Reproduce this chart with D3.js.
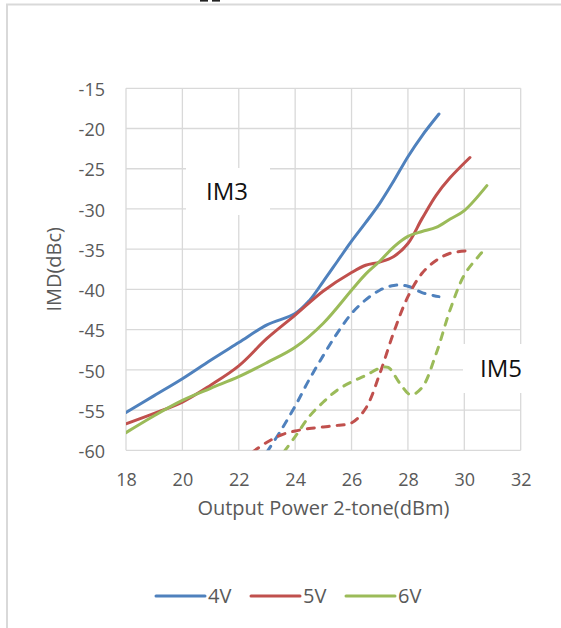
<!DOCTYPE html>
<html>
<head>
<meta charset="utf-8">
<script src="https://cdn.jsdelivr.net/npm/d3@7"></script>
<style>
  html, body { margin: 0; padding: 0; background: #fff; }
  svg { display: block; font-family: "Open Sans", sans-serif; }
</style>
</head>
<body>
<svg id="chart" width="561" height="628"></svg>
<script>
// series names (legend)
var seriesNames = ['4V', '5V', '6V'];
var seriesColors = ['#4f81bd', '#c0504d', '#9bbb59'];

// IM3 curves, [Pout dBm, IMD dBc]
var im3_4V = [[18,-55.3],[19,-53.2],[20,-51.1],[21,-48.8],[22,-46.6],[23,-44.4],[24,-43.0],[24.5,-41.4],[25,-39.0],[25.5,-36.5],[26,-34.0],[26.5,-31.7],[27,-29.3],[27.5,-26.5],[28,-23.5],[28.5,-20.9],[29.1,-18.2]];
var im3_5V = [[18,-56.7],[19,-55.4],[20,-54.0],[21,-51.9],[22,-49.5],[23,-46.1],[24,-43.2],[25,-40.2],[26,-37.9],[26.5,-37.0],[27,-36.6],[27.5,-35.9],[28,-34.3],[28.5,-31.2],[29,-28.3],[29.5,-26.1],[30.2,-23.6]];
var im3_6V = [[18,-57.8],[19,-55.7],[20,-53.8],[21,-52.3],[22,-50.85],[23,-49.1],[24,-47.2],[25,-44.2],[26,-40.1],[26.5,-38.1],[27,-36.5],[27.5,-34.7],[28,-33.4],[28.5,-32.8],[29,-32.3],[29.5,-31.25],[30,-30.2],[30.8,-27.1]];

// IM5 curves
var im5_4V = [[23,-60.2],[23.5,-57.5],[24,-54.5],[24.5,-51.2],[25,-48.2],[25.5,-45.4],[26,-43.0],[26.5,-41.3],[27,-40.1],[27.5,-39.5],[28,-39.6],[28.5,-40.4],[29.1,-40.9]];
var im5_5V = [[22.5,-60.2],[23,-59.0],[23.5,-58.1],[24,-57.6],[24.5,-57.3],[25,-57.1],[25.5,-56.9],[26,-56.6],[26.5,-54.8],[27,-50.5],[27.5,-45.3],[28,-40.9],[28.5,-38.0],[29,-36.4],[29.5,-35.5],[30.1,-35.2]];
var im5_6V = [[23.6,-60.2],[24,-58.3],[24.5,-55.8],[25,-54.0],[25.5,-52.5],[26,-51.5],[26.5,-50.7],[27,-49.8],[27.3,-49.7],[27.7,-51.6],[28.1,-53.1],[28.5,-52.2],[29,-48.0],[29.5,-42.5],[30,-38.2],[30.5,-35.9],[30.8,-34.7]];

var xTicks = [18, 20, 22, 24, 26, 28, 30, 32];
var yTicks = [-60, -55, -50, -45, -40, -35, -30, -25, -20, -15];

var svg = d3.select('#chart');
var plot = { left: 126, right: 520.7, top: 88.3, bottom: 450.3 };

var x = d3.scaleLinear().domain([18, 32]).range([plot.left, plot.right]);
var y = d3.scaleLinear().domain([-60, -15]).range([plot.bottom, plot.top]);

// chart frame (only the top and left edge are in view)
svg.append('rect').attr('width', 561).attr('height', 628).attr('fill', '#fff');
svg.append('path')
  .attr('d', 'M7,640V4.5H570')
  .attr('fill', 'none').attr('stroke', '#d9d9d9').attr('stroke-width', 2);
// bits of cut-off text above the frame
svg.append('rect').attr('x', 200).attr('y', 0).attr('width', 8).attr('height', 1.6).attr('fill', '#222');
svg.append('rect').attr('x', 212).attr('y', 0).attr('width', 8).attr('height', 1.6).attr('fill', '#222');

// gridlines
var grid = svg.append('g').attr('stroke', '#d9d9d9').attr('stroke-width', 1.3);
grid.selectAll('.hg').data(yTicks).enter().append('line')
  .attr('x1', plot.left).attr('x2', plot.right)
  .attr('y1', function(d) { return y(d); }).attr('y2', function(d) { return y(d); });
grid.selectAll('.vg').data(xTicks).enter().append('line')
  .attr('y1', plot.top).attr('y2', plot.bottom)
  .attr('x1', function(d) { return x(d); }).attr('x2', function(d) { return x(d); });

// axes, labels only (plain hyphen for negatives, like the source)
var xAxis = svg.append('g')
  .attr('transform', 'translate(0,' + plot.bottom + ')')
  .call(d3.axisBottom(x).tickValues(xTicks).tickSize(0).tickPadding(0).tickFormat(String));
xAxis.select('.domain').remove();
xAxis.selectAll('text').attr('y', 36).attr('dy', 0)
  .attr('fill', '#595959').style('font-size', '18px').style('font-family', '"Open Sans", sans-serif');

var yAxis = svg.append('g')
  .attr('transform', 'translate(' + plot.left + ',0)')
  .call(d3.axisLeft(y).tickValues(yTicks).tickSize(0).tickPadding(0).tickFormat(String));
yAxis.select('.domain').remove();
yAxis.selectAll('text').attr('x', -21).attr('dy', '0.4em')
  .attr('fill', '#595959').style('font-size', '18px').style('font-family', '"Open Sans", sans-serif');

// axis titles
svg.append('text')
  .attr('x', (plot.left + plot.right) / 2).attr('y', 515)
  .attr('text-anchor', 'middle').attr('fill', '#595959')
  .style('font-size', '20px')
  .text('Output Power 2-tone(dBm)');
svg.append('text')
  .attr('transform', 'translate(61,' + ((plot.top + plot.bottom) / 2) + ') rotate(-90)')
  .attr('text-anchor', 'middle').attr('fill', '#595959')
  .style('font-size', '20px')
  .text('IMD(dBc)');

// series
svg.append('clipPath').attr('id', 'plotclip').append('rect')
  .attr('x', plot.left).attr('y', plot.top - 10)
  .attr('width', plot.right - plot.left + 10).attr('height', plot.bottom - plot.top + 10);

var line = d3.line()
  .x(function(d) { return x(d[0]); })
  .y(function(d) { return y(d[1]); })
  .curve(d3.curveCatmullRom.alpha(0.5));

var lines = svg.append('g').attr('clip-path', 'url(#plotclip)')
  .attr('fill', 'none').attr('stroke-width', 3).attr('stroke-linecap', 'round');

[im3_4V, im3_5V, im3_6V].forEach(function(s, i) {
  lines.append('path').datum(s).attr('d', line).attr('stroke', seriesColors[i]);
});
[im5_4V, im5_5V, im5_6V].forEach(function(s, i) {
  lines.append('path').datum(s).attr('d', line).attr('stroke', seriesColors[i])
    .attr('stroke-dasharray', '7,8');
});

// text boxes
function label(txt, bx, by, bw, bh) {
  svg.append('rect').attr('x', bx).attr('y', by).attr('width', bw).attr('height', bh).attr('fill', '#fff');
  svg.append('text').attr('x', bx + bw / 2 - 1).attr('y', by + bh / 2).attr('dy', '0.36em')
    .attr('text-anchor', 'middle').attr('fill', '#111')
    .style('font-size', '24px').text(txt);
}
label('IM3', 186, 168, 84, 47);
label('IM5', 463, 344, 78, 49);

// legend
var legend = svg.append('g').attr('transform', 'translate(156,596)');
var item = legend.selectAll('g').data(seriesNames).enter().append('g')
  .attr('transform', function(d, i) { return 'translate(' + (i * 95) + ',0)'; });
item.append('line').attr('x1', 0).attr('x2', 49)
  .attr('stroke', function(d, i) { return seriesColors[i]; })
  .attr('stroke-width', 3).attr('stroke-linecap', 'round');
item.append('text').attr('x', 52).attr('dy', '0.36em')
  .attr('fill', '#595959').style('font-size', '20px')
  .text(function(d) { return d; });
</script>
</body>
</html>
